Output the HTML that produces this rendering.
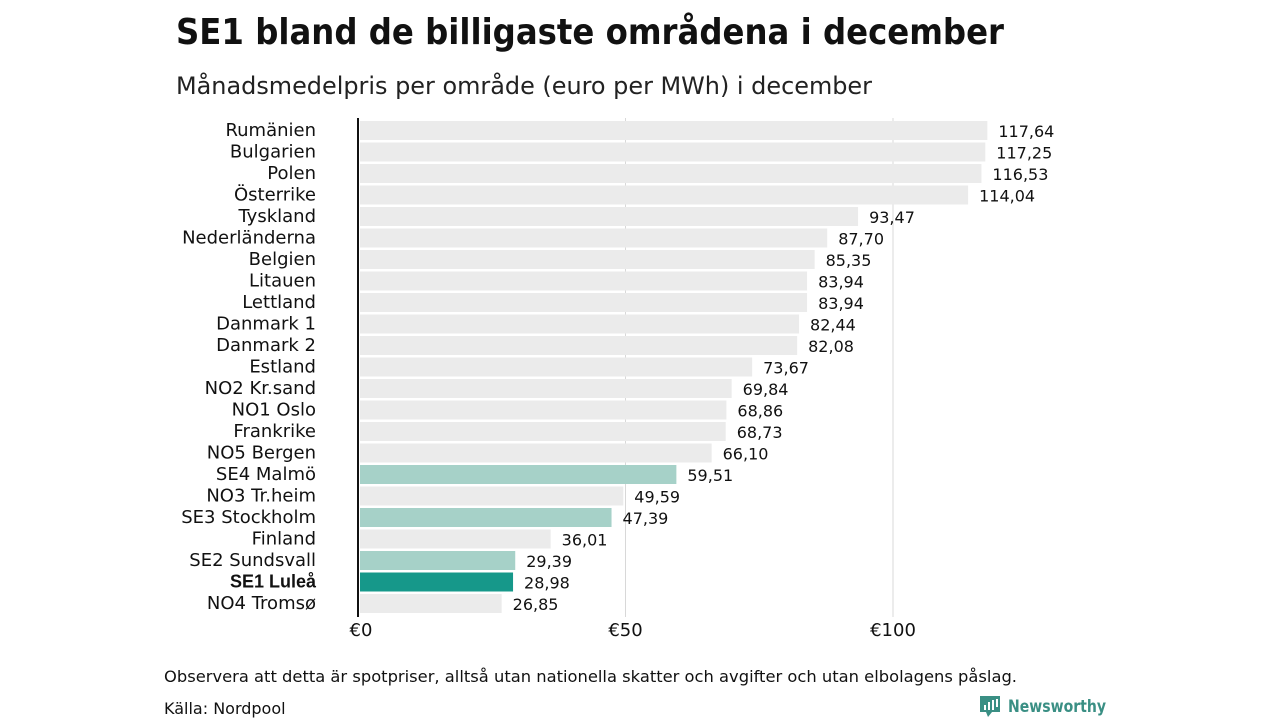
<!DOCTYPE html>
<html><head><meta charset="utf-8"><style>
body{margin:0;background:#fff;width:1280px;height:720px;overflow:hidden;font-family:"Liberation Sans","DejaVu Sans",sans-serif}
</style></head><body>
<svg width="1280" height="720">
<text x="176" y="44" font-size="36" font-weight="bold" fill="#111" font-family="DejaVu Sans, sans-serif" textLength="828" lengthAdjust="spacingAndGlyphs">SE1 bland de billigaste områdena i december</text>
<text x="176" y="94" font-size="24" fill="#222" font-family="DejaVu Sans, sans-serif" textLength="696" lengthAdjust="spacingAndGlyphs">Månadsmedelpris per område (euro per MWh) i december</text>
<g id="grid"></g>
<g id="bars"></g>
<line x1="358" y1="118" x2="358" y2="617" stroke="#111" stroke-width="2"/>
<g id="ticks"></g>
<text x="164" y="682" font-size="16" fill="#111" font-family="DejaVu Sans, sans-serif" textLength="853" lengthAdjust="spacingAndGlyphs">Observera att detta är spotpriser, alltså utan nationella skatter och avgifter och utan elbolagens påslag.</text>
<text x="164" y="714" font-size="16" fill="#111" font-family="DejaVu Sans, sans-serif">Källa: Nordpool</text>
<g>
<path d="M980 696h20v16h-8l-4 5-2-5h-6z" fill="#3a8f84"/>
<rect x="984" y="705" width="2" height="5" fill="#fff"/><rect x="988" y="702" width="2" height="8" fill="#fff"/><rect x="992" y="700" width="2" height="10" fill="#fff"/><rect x="996" y="699" width="2" height="8" fill="#fff"/>
<text x="1008" y="712" font-size="17" font-weight="bold" fill="#3a8f84" font-family="DejaVu Sans, sans-serif" textLength="98" lengthAdjust="spacingAndGlyphs">Newsworthy</text>
</g>
</svg>
<script>
const categories=["Rumänien","Bulgarien","Polen","Österrike","Tyskland","Nederländerna","Belgien","Litauen","Lettland","Danmark 1","Danmark 2","Estland","NO2 Kr.sand","NO1 Oslo","Frankrike","NO5 Bergen","SE4 Malmö","NO3 Tr.heim","SE3 Stockholm","Finland","SE2 Sundsvall","SE1 Luleå","NO4 Tromsø"];
const values=[117.64,117.25,116.53,114.04,93.47,87.70,85.35,83.94,83.94,82.44,82.08,73.67,69.84,68.86,68.73,66.10,59.51,49.59,47.39,36.01,29.39,28.98,26.85];
const highlight=["SE4 Malmö","SE3 Stockholm","SE2 Sundsvall"];
const focus="SE1 Luleå";
const tickValues=[0,50,100];
const tickLabels=["€0","€50","€100"];
const NS="http://www.w3.org/2000/svg";
const x=v=>358+v*5.35;
const y=i=>121+i*21.5;
function mk(t,a,p){const e=document.createElementNS(NS,t);for(const k in a)e.setAttribute(k,a[k]);document.getElementById(p).appendChild(e);return e;}
tickValues.forEach((v,i)=>{
 if(v>0){const l=mk("line",{x1:x(v),x2:x(v),y1:118,y2:617,stroke:"#d8d8d8","stroke-width":1},"grid");
 
 }
 const t=mk("text",{x:x(v)+(v===0?3:0),y:636,"font-size":18,"text-anchor":"middle",fill:"#111","font-family":"DejaVu Sans, sans-serif"},"ticks");
 t.textContent=tickLabels[i];
 
 
});
categories.forEach((c,i)=>{
 const col=c===focus?"#16988a":highlight.includes(c)?"#a6d1c8":"#ebebeb";
 const r=mk("rect",{x:360,y:y(i),width:x(values[i])-360,height:19,fill:col},"bars");
 
 
 const l=mk("text",{x:316,y:y(i)+15,"font-size":18,"text-anchor":"end",fill:"#111","font-family":c===focus?"Liberation Sans, sans-serif":"DejaVu Sans, sans-serif","font-weight":c===focus?"bold":"normal"},"bars");
 l.textContent=c;
 
 
 const v=mk("text",{x:x(values[i])+11,y:y(i)+16,"font-size":16,fill:"#111","font-family":"DejaVu Sans, sans-serif"},"bars");
 v.textContent=values[i].toFixed(2).replace(".",",");
 
 
});
</script>
</body></html>
